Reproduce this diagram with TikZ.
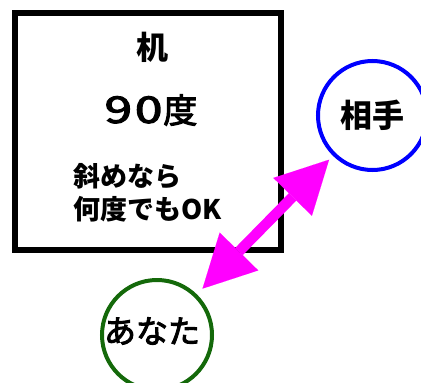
\documentclass[tikz,border=0pt]{standalone}
\usepackage{fontspec}
\setmainfont{Noto Sans CJK JP}
\newfontfamily\jp{Noto Sans CJK JP}
\newfontfamily\jpm[FakeBold=3]{Noto Sans CJK JP}
\usetikzlibrary{arrows.meta}
\definecolor{darkgreen}{RGB}{20,105,10}
\definecolor{pinkarrow}{RGB}{255,0,255}
\definecolor{pureblue}{RGB}{0,0,255}
\tikzset{
  boxstyle/.style={draw=black, line width=5.5pt, minimum width=266pt, minimum height=237pt, inner sep=0pt},
  person/.style={circle, draw=#1, line width=4pt, inner sep=0pt, text=black},
  bigarrow/.style={draw=pinkarrow, line width=10.5pt,
    {Triangle[length=52pt,width=54pt,line width=0.01pt]}-{Triangle[length=52pt,width=54pt,line width=0.01pt]}},
  jb/.style={font=\jp\bfseries\fontsize{#1}{#1}\selectfont, inner sep=0pt},
  jr/.style={font=\jpm\fontsize{#1}{#1}\selectfont, inner sep=0pt},
}
\begin{document}
\begin{tikzpicture}[x=1pt,y=-1pt]
\useasboundingbox (0,0) rectangle (421,383);
\node[boxstyle] (desk) at (148,131.5) {};
\node[jb=32pt] (deskname) at (152,47) {机};
\node[jr=34pt] (angle) at (151,110) {\scalebox{1.45}[1.08]{9}\hspace{3pt}\scalebox{1.45}[1.08]{0}\hspace{1pt}度};
\node[anchor=west, align=left, inner sep=0pt, font=\jp\bfseries\fontsize{27pt}{33pt}\selectfont] (note) at (73,192.5) {斜めなら\\何度でもOK};
\node[person=pureblue, minimum size=109pt, jb=32pt] (aite) at (372.5,115.5) {相手};
\node[person=darkgreen, minimum size=110pt] (anata) at (157,335) {};
\node[jr=32pt] (anatatext) at (152,331) {あなた};
\draw[bigarrow, shorten <=5.5pt, shorten >=8pt] (aite) -- (anata);
\end{tikzpicture}
\end{document}
